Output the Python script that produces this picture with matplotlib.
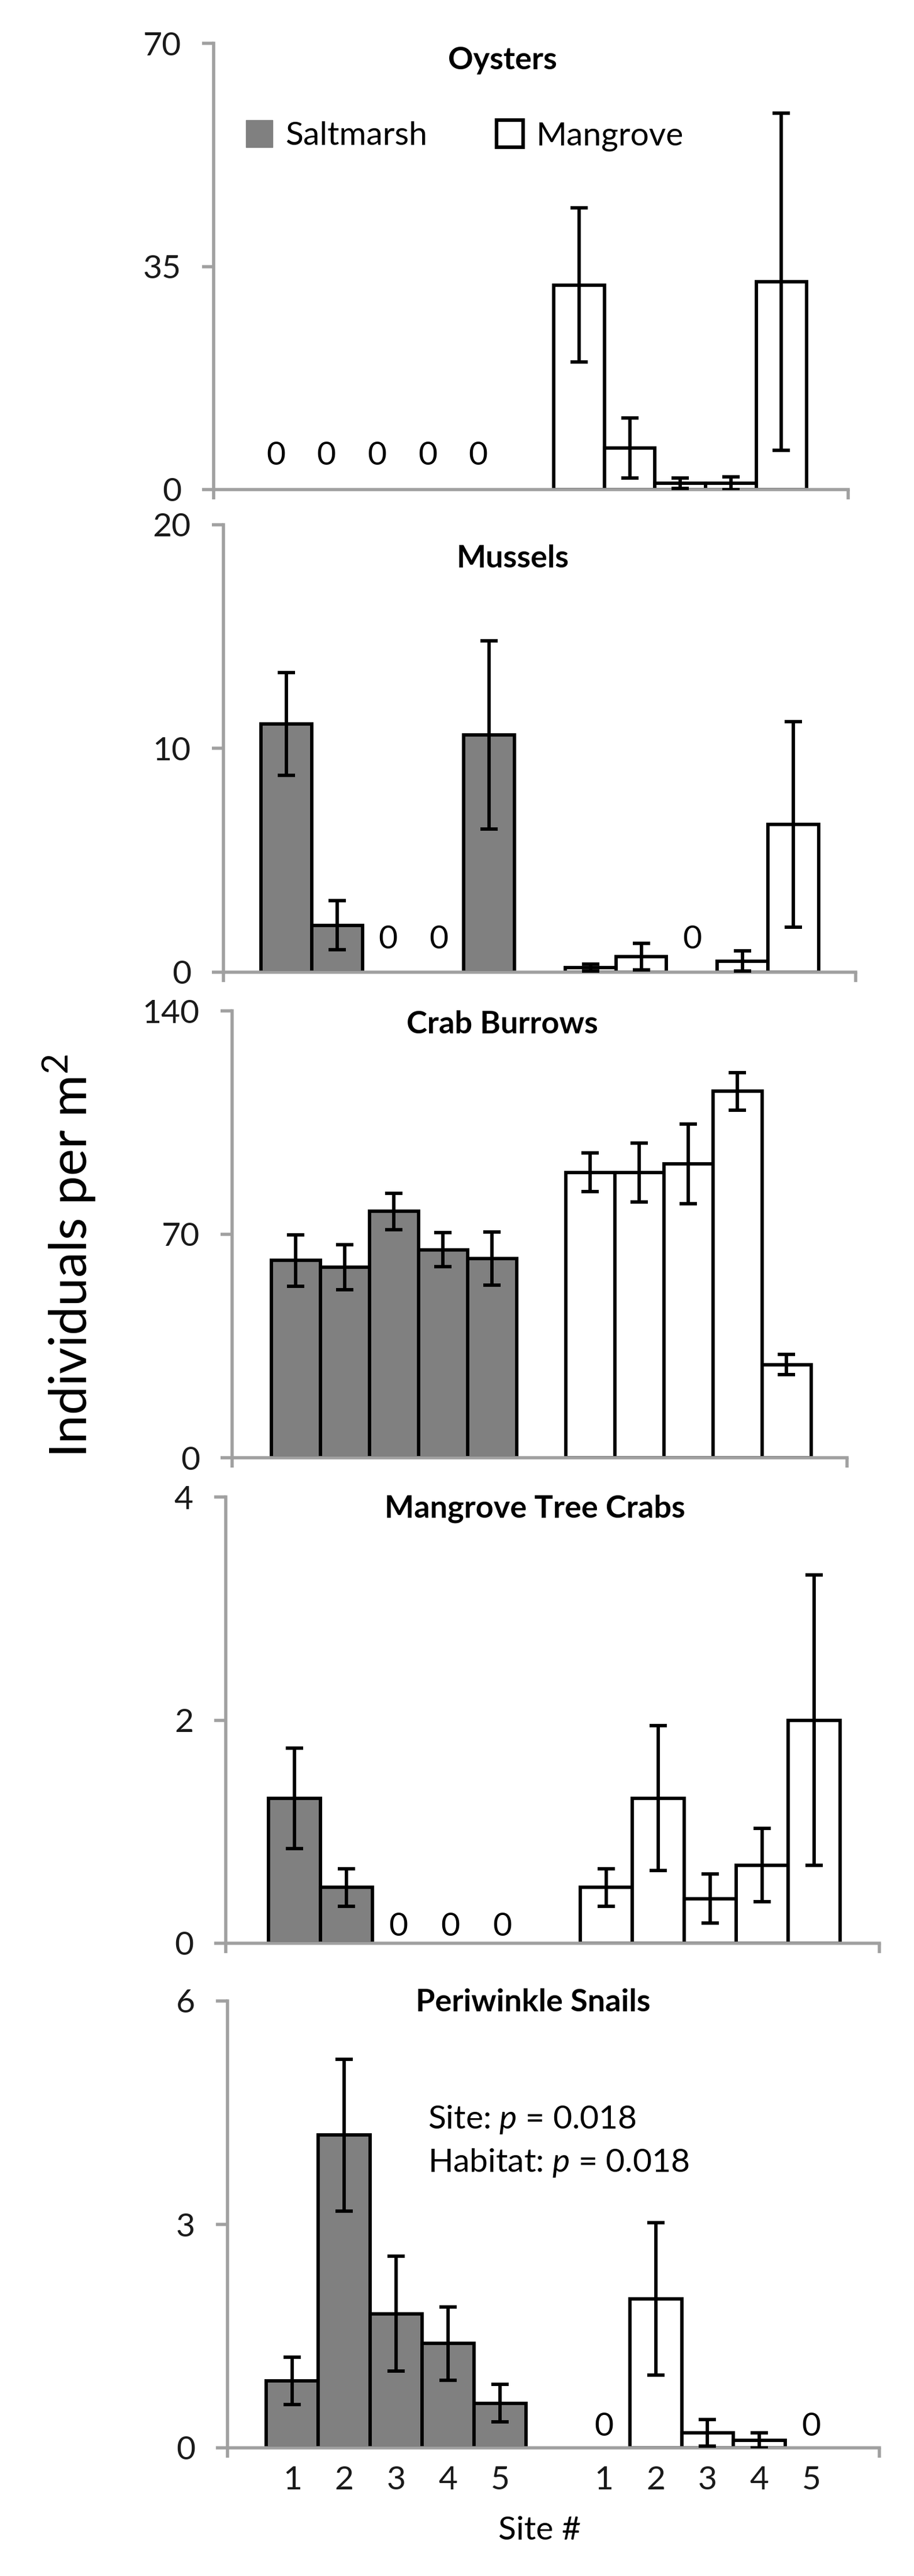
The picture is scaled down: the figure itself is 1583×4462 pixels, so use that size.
import numpy as np
import matplotlib
matplotlib.use('Agg')
import matplotlib.pyplot as plt
from matplotlib.patches import Patch

# ---------------------------------------------------------------------------
# style
# ---------------------------------------------------------------------------
plt.rcParams['font.family'] = ['Lato', 'DejaVu Sans']
plt.rcParams['mathtext.fontset'] = 'custom'
plt.rcParams['mathtext.rm'] = 'Lato'
plt.rcParams['mathtext.it'] = 'Lato:italic'
plt.rcParams['mathtext.bf'] = 'Lato:bold'

W, H, DPI = 1583, 4462, 100
GRAY = '#808080'
AXIS_GRAY = '#A0A0A0'
FS = 41          # ticks / legend / notes
TITLE_FS = 39
LW = 4.2

# ---------------------------------------------------------------------------
# data (mean +- SE, individuals per m2), sites 1-5
# ---------------------------------------------------------------------------
sites = ['1', '2', '3', '4', '5']

oyster_salt = [0, 0, 0, 0, 0]
oyster_salt_se = [0, 0, 0, 0, 0]
oyster_mang = [32.1, 6.5, 1.0, 1.0, 32.6]
oyster_mang_se = [12.1, 4.7, 0.8, 1.0, 26.4]

mussel_salt = [11.1, 2.1, 0, 0, 10.6]
mussel_salt_se = [2.3, 1.1, 0, 0, 4.2]
mussel_mang = [0.2, 0.7, 0, 0.5, 6.6]
mussel_mang_se = [0.15, 0.6, 0, 0.45, 4.6]

crab_salt = [61.8, 59.7, 77.2, 65.2, 62.4]
crab_salt_se = [8.1, 7.0, 5.7, 5.4, 8.3]
crab_mang = [89.4, 89.4, 92.1, 114.8, 29.2]
crab_mang_se = [6.1, 9.2, 12.5, 5.9, 3.2]

tree_salt = [1.3, 0.5, 0, 0, 0]
tree_salt_se = [0.45, 0.17, 0, 0, 0]
tree_mang = [0.5, 1.3, 0.4, 0.7, 2.0]
tree_mang_se = [0.17, 0.65, 0.22, 0.33, 1.3]

snail_salt = [0.9, 4.2, 1.8, 1.4, 0.6]
snail_salt_se = [0.32, 1.02, 0.77, 0.49, 0.25]
snail_mang = [0, 2.0, 0.2, 0.1, 0]
snail_mang_se = [0, 1.02, 0.18, 0.1, 0]

titles = ['Oysters', 'Mussels', 'Crab Burrows', 'Mangrove Tree Crabs', 'Periwinkle Snails']
yticks = [[0, 35, 70], [0, 10, 20], [0, 70, 140], [0, 2, 4], [0, 3, 6]]

series = [
    (oyster_salt, oyster_salt_se, oyster_mang, oyster_mang_se),
    (mussel_salt, mussel_salt_se, mussel_mang, mussel_mang_se),
    (crab_salt, crab_salt_se, crab_mang, crab_mang_se),
    (tree_salt, tree_salt_se, tree_mang, tree_mang_se),
    (snail_salt, snail_salt_se, snail_mang, snail_mang_se),
]

# ---------------------------------------------------------------------------
# layout: axes box in pixels (x0, y_top, x1, y_zero), x limits, title pos, "0" pad
# ---------------------------------------------------------------------------
boxes = [(370, 75, 1469, 848), (387, 909, 1482, 1684), (402, 1751, 1467, 2525),
         (391, 2593, 1523, 3366), (394, 3466, 1523, 4240)]
xlims = [(-1.23, 11.32), (-1.24, 11.23), (-1.30, 11.23), (-1.32, 11.26), (-1.25, 11.31)]
title_pos = [(0.455, 0.962), (0.458, 0.924), (0.439, 0.970), (0.473, 0.974), (0.469, 0.997)]
zero_pad = [24, 22, 0, 2, 8]


def draw_panel(ax, salt, salt_se, mang, mang_se, ticks, xlim, pad):
    xs = np.arange(len(sites))
    xm = xs + len(sites) + 1
    for x, m, s, fc in ((xs, salt, salt_se, GRAY), (xm, mang, mang_se, 'white')):
        m = np.asarray(m, dtype=float)
        s = np.asarray(s, dtype=float)
        # zero-height bars get no outline, only a "0" label
        lw = np.where(m > 0, LW, 0)
        cont = ax.bar(x, m, width=1.0, color=fc, edgecolor='black', linewidth=lw, zorder=2)
        keep = m > 0
        if keep.any():
            ax.errorbar(x[keep], m[keep], yerr=s[keep], fmt='none', ecolor='black',
                        elinewidth=LW, capsize=10.5, capthick=LW, zorder=3)
        labels = ['0' if v == 0 else '' for v in m]
        if any(labels):
            ax.bar_label(cont, labels=labels, padding=pad, fontsize=FS)

    for side in ('top', 'right'):
        ax.spines[side].set_visible(False)
    for side in ('left', 'bottom'):
        ax.spines[side].set_color(AXIS_GRAY)
        ax.spines[side].set_linewidth(4)

    ax.set_ylim(0, ticks[-1])
    ax.set_yticks(ticks)
    ax.tick_params(axis='y', direction='out', length=14.4, width=4, color=AXIS_GRAY,
                   pad=26, labelsize=FS, labelcolor='#1a1a1a')
    ax.set_xlim(*xlim)
    ax.set_xticks(list(xlim))
    ax.tick_params(axis='x', which='major', direction='out', length=12, width=4,
                   color=AXIS_GRAY, labelbottom=False)
    return xs, xm


fig = plt.figure(figsize=(W / DPI, H / DPI), dpi=DPI)

axes = []
for i in range(5):
    x0, yt, x1, yz = boxes[i]
    ax = fig.add_axes([x0 / W, 1 - yz / H, (x1 - x0) / W, (yz - yt) / H])
    salt, salt_se, mang, mang_se = series[i]
    xs, xm = draw_panel(ax, salt, salt_se, mang, mang_se, yticks[i], xlims[i], zero_pad[i])
    tx, ty = title_pos[i]
    ax.text(tx, ty, titles[i], transform=ax.transAxes, ha='center', va='center',
            fontsize=TITLE_FS, fontweight='bold')
    axes.append(ax)

# legend in the top panel
handles = [Patch(facecolor=GRAY, edgecolor=GRAY, label='Saltmarsh'),
           Patch(facecolor='white', edgecolor='black', linewidth=4.5, label='Mangrove')]
axes[0].legend(handles=handles, loc='center left', bbox_to_anchor=(0.051, 0.793), ncol=2,
               frameon=False, fontsize=FS, handlelength=0.8, handleheight=0.9,
               handletextpad=0.4, columnspacing=2.1, borderpad=0, borderaxespad=0)

# site numbers under the bottom panel
ax = axes[-1]
ax.set_xticks(np.concatenate([xs, xm]), minor=True)
ax.set_xticklabels(sites * 2, minor=True)
ax.tick_params(axis='x', which='minor', length=0, pad=22, labelsize=FS,
               labelcolor='#1a1a1a', labelbottom=True)
ax.text(0.479, -0.186, 'Site #', transform=ax.transAxes, ha='center', va='center', fontsize=FS)

# statistics note
ax.text(0.307, 0.735, r'Site: $p$ = 0.018', transform=ax.transAxes, ha='left', va='center',
        fontsize=FS)
ax.text(0.307, 0.637, r'Habitat: $p$ = 0.018', transform=ax.transAxes, ha='left', va='center',
        fontsize=FS)

fig.text(120 / W, 1 - 2176 / H, r'Individuals per m$^2$', rotation=90, ha='center',
         va='center', fontsize=64)

fig.savefig('out.png', dpi=DPI)
